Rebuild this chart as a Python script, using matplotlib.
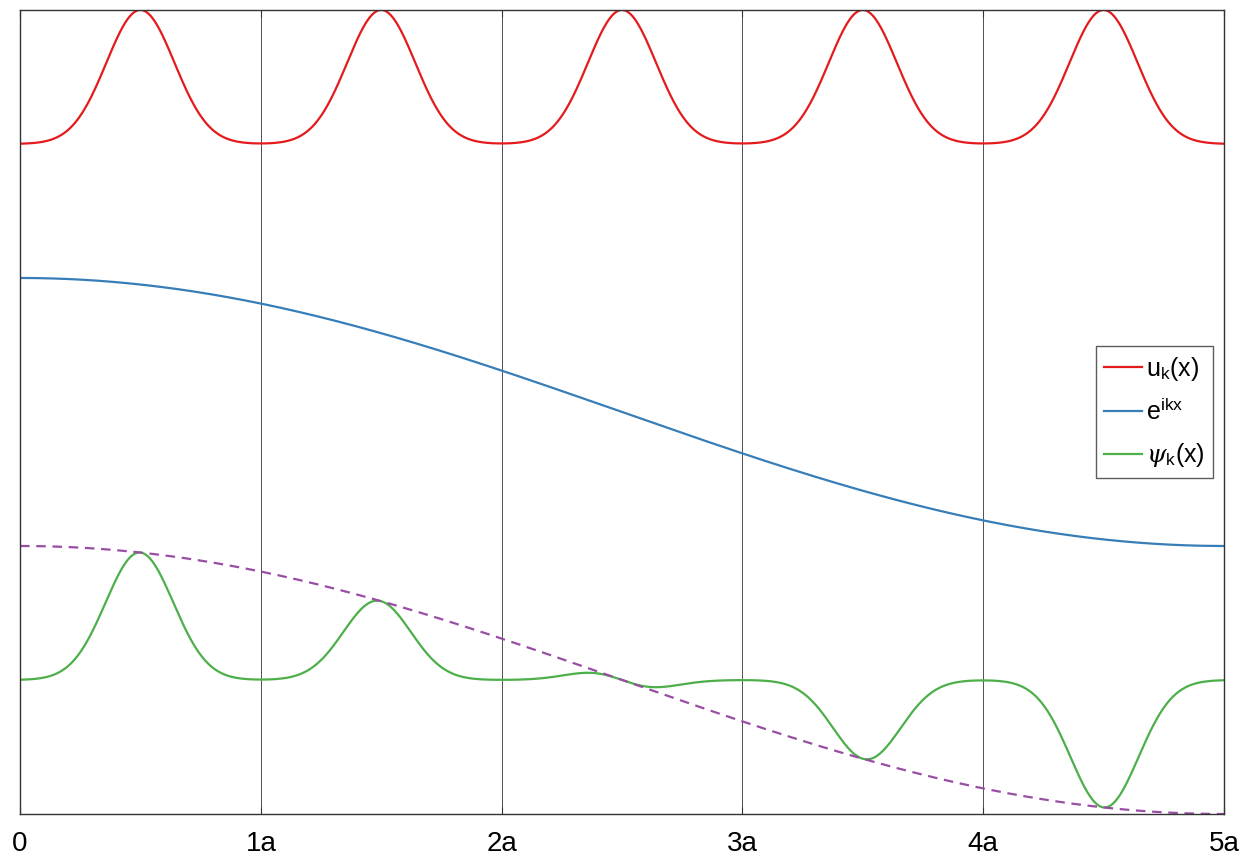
import numpy as np
import matplotlib
matplotlib.use("Agg")
import matplotlib.pyplot as plt

plt.rcParams["font.family"] = ["Liberation Sans", "DejaVu Sans"]
plt.rcParams["mathtext.fontset"] = "custom"
plt.rcParams["mathtext.rm"] = "Liberation Sans"
plt.rcParams["mathtext.it"] = "DejaVu Serif:italic"

# lattice / wave parameters
bump_centers = [0.5, 1.5, 2.5, 3.5, 4.5]   # atom positions (units of a)
bump_width = 0.2                            # gaussian width of u_k
wave_period = 10.0                          # e^{ikx}: half a period over 5a
u_offset = 4.0
e_offset = 2.0
tick_pos = [0, 1, 2, 3, 4, 5]
tick_labels = ["0", "1a", "2a", "3a", "4a", "5a"]

x = np.linspace(0, 5, 2000)
u = np.zeros_like(x)
for c in bump_centers:
    u += np.exp(-((x - c) / bump_width) ** 2)
wave = np.cos(2 * np.pi * x / wave_period)
psi = u * wave

fig = plt.figure(figsize=(12.52, 8.59), dpi=100)
ax = fig.add_axes([0.016, 0.0524, 0.9616, 0.936])

for xv in tick_pos[1:-1]:
    ax.axvline(xv, color="#333333", lw=0.6, zorder=0)

ax.plot(x, u_offset + u, color="#e41a1c", lw=1.6, label="u$_{\\rm k}$(x)")
ax.plot(x, e_offset + wave, color="#377eb8", lw=1.6, label="e$^{\\rm ikx}$")
ax.plot(x, psi, color="#4daf4a", lw=1.6, label="$\\psi_{\\rm k}$(x)")
ax.plot(x, wave, color="#984ea3", lw=1.6, dashes=(4.3, 3.0))

ax.set_xlim(0, 5)
ax.set_ylim(-1, 5)
ax.set_xticks(tick_pos)
ax.set_xticklabels(tick_labels, fontsize=20)
ax.set_yticks([])
ax.tick_params(axis="x", direction="in", length=5, width=0.8, top=True, pad=12,
               colors="#333333", labelcolor="black")
for s in ax.spines.values():
    s.set_color("#333333")
    s.set_linewidth(1.0)

leg = ax.legend(loc="center right", bbox_to_anchor=(0.991, 0.5), borderaxespad=0,
                fontsize=18, frameon=True, fancybox=False, handlelength=1.5,
                handletextpad=0.15, borderpad=0.35, labelspacing=0.65)
leg.get_frame().set_edgecolor("#333333")
leg.get_frame().set_linewidth(1.0)

fig.savefig("out.png", dpi=100, facecolor="white")
